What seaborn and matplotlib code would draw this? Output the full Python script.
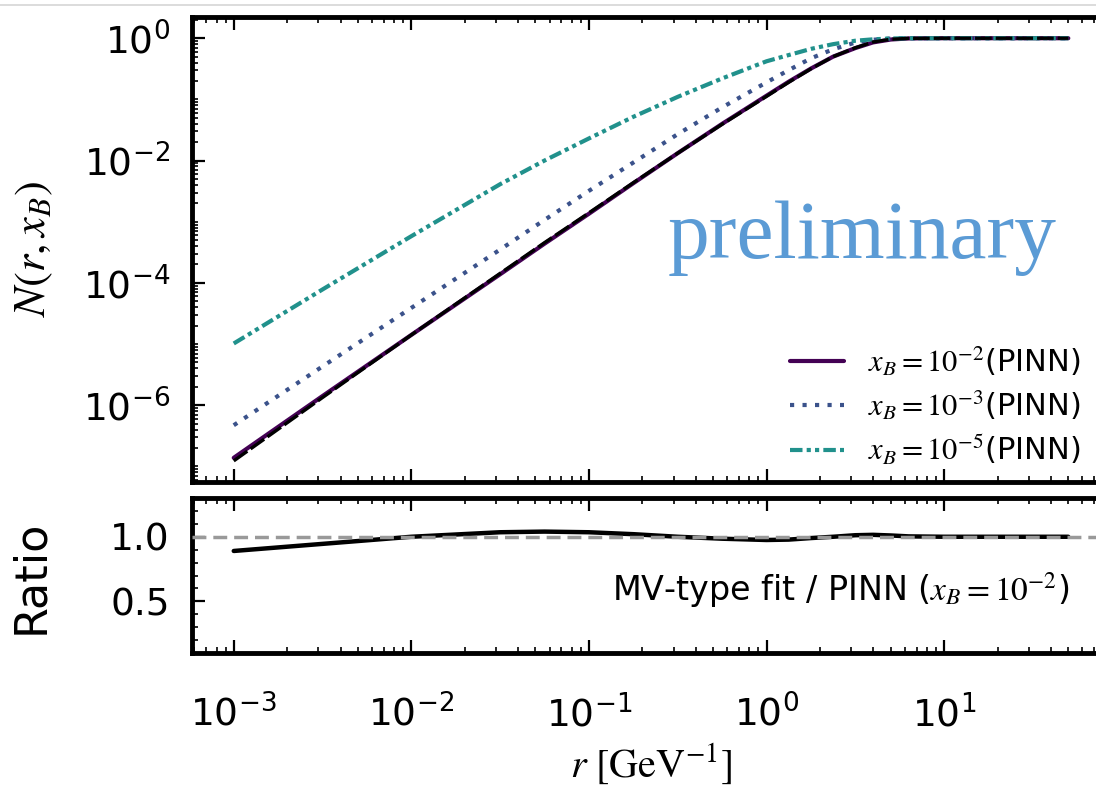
import matplotlib
matplotlib.use("Agg")
import matplotlib.pyplot as plt
import seaborn as sns
import pandas as pd
from matplotlib.ticker import LogLocator, NullFormatter, MultipleLocator
from matplotlib.lines import Line2D
from matplotlib.font_manager import FontProperties

# dipole size r [GeV^-1]
r = [0.001, 0.00316, 0.01, 0.0316, 0.0562, 0.1, 0.178, 0.316, 0.562,
     1.0, 1.33, 1.78, 2.37, 3.16, 3.98, 5.01, 6.31, 10.0, 50.0]

# PINN solutions N(r, x_B)
n_xb2 = [1.38e-7, 1.41e-6, 1.41e-5, 1.38e-4, 4.37e-4, 1.35e-3, 4.27e-3, 1.32e-2, 3.98e-2,
         0.115, 0.194, 0.32, 0.50, 0.69, 0.855, 0.953, 0.992, 1.0, 1.0]
n_xb3 = [4.7e-7, 4.3e-6, 3.9e-5, 3.5e-4, 1.07e-3, 3.2e-3, 9.3e-3, 2.7e-2, 7.4e-2,
         0.19, 0.30, 0.47, 0.66, 0.85, 0.945, 0.989, 0.999, 1.0, 1.0]
n_xb5 = [1.02e-5, 7.8e-5, 5.8e-4, 4.1e-3, 1.0e-2, 2.3e-2, 5.2e-2, 0.11, 0.22,
         0.42, 0.53, 0.67, 0.80, 0.91, 0.96, 0.99, 0.998, 1.0, 1.0]

# MV-type fit / PINN (x_B = 1e-2)
ratio_mv = [0.89, 0.945, 1.0, 1.035, 1.04, 1.035, 1.02, 1.0, 0.985,
            0.975, 0.978, 0.99, 1.0, 1.012, 1.015, 1.01, 1.003, 1.0, 1.0]

labels = [r'$x_B = 10^{-2}$(PINN)', r'$x_B = 10^{-3}$(PINN)', r'$x_B = 10^{-5}$(PINN)']
colors = ['#440154', '#3b528b', '#21918c']
styles = ['-', (0, (1, 2)), (0, (3, 1, 1, 1, 1, 1))]

df = pd.DataFrame({'r': r, 'xb2': n_xb2, 'xb3': n_xb3, 'xb5': n_xb5, 'ratio': ratio_mv})
df['mv'] = df['ratio'] * df['xb2']

sns.set_theme(style="ticks", rc={'axes.edgecolor': 'black', 'xtick.color': 'black',
                                 'ytick.color': 'black', 'text.color': 'black',
                                 'axes.labelcolor': 'black', 'axes.linewidth': 3.5})
plt.rcParams['font.family'] = ['DejaVu Sans']

fig = plt.figure(figsize=(10.96, 7.88), dpi=100)
ax1 = fig.add_axes([0.1752, 0.3883, 0.8376, 0.590])
ax2 = fig.add_axes([0.1752, 0.1713, 0.8376, 0.1967], sharex=ax1)
ax1.set_xscale('log')
ax1.set_yscale('log')

for col, c, ls in zip(['xb2', 'xb3', 'xb5'], colors, styles):
    sns.lineplot(data=df, x='r', y=col, ax=ax1, color=c, linestyle=ls, lw=3.0)
sns.lineplot(data=df, x='r', y='mv', ax=ax1, color='black', linestyle=(0, (5, 1.2)), lw=2.4)

handles = [Line2D([], [], color=c, linestyle=ls, lw=3.0) for c, ls in zip(colors, styles)]
ax1.legend(handles, labels, loc='lower right', bbox_to_anchor=(0.968, 0.032), frameon=False,
           prop=FontProperties(family='DejaVu Sans', size=22, math_fontfamily='stix'),
           handlelength=1.75, handletextpad=0.8, labelspacing=0.35, borderaxespad=0, borderpad=0)

sns.lineplot(data=df, x='r', y='ratio', ax=ax2, color='black', lw=3.2)
ax2.axhline(1.0, color='#999999', linestyle=(0, (4, 2)), lw=2.5, zorder=3)
ax2.set_ylim(0.1, 1.3)
ax2.set_yticks([0.5, 1.0])
ax2.yaxis.set_minor_locator(MultipleLocator(0.1))

ax1.set_yticks([1e-6, 1e-4, 1e-2, 1.0])
ax1.yaxis.set_minor_locator(LogLocator(base=10, subs=list(range(1, 10)), numticks=30))
ax1.yaxis.set_minor_formatter(NullFormatter())
ax1.xaxis.set_minor_locator(LogLocator(base=10, subs=list(range(2, 10)), numticks=30))
ax1.xaxis.set_minor_formatter(NullFormatter())

for ax in (ax1, ax2):
    ax.tick_params(which='both', direction='in', top=True, right=True, labelsize=27)
    ax.tick_params(which='major', length=9.5, width=1.6)
    ax.tick_params(which='minor', length=4.5, width=1.2)
    ax.tick_params(axis='y', pad=16)
    ax.tick_params(axis='x', pad=30)
ax1.tick_params(labelbottom=False)

ax1.set_xlabel('')
ax1.set_ylabel(r'$N(r,x_B)$', fontsize=32, math_fontfamily='stix')
ax1.yaxis.set_label_coords(-0.149, 0.5)
ax2.set_ylabel('Ratio', fontsize=32)
ax2.yaxis.set_label_coords(-0.1525, 0.49)
ax2.set_xlabel(r'$r\ [\mathrm{GeV}^{-1}]$', fontsize=29, math_fontfamily='stix')
ax2.xaxis.set_label_coords(0.5, -0.575)

ax2.text(0.956, 0.406, r'MV-type fit / PINN ($x_B = 10^{-2}$)', transform=ax2.transAxes,
         ha='right', va='center', fontsize=24, math_fontfamily='stix')

fig.text(0.7865, 0.6726, 'preliminary', fontsize=60, family='Liberation Serif',
         color='#5b9bd5', ha='center', va='baseline')
fig.add_artist(Line2D([0, 1], [0.9937, 0.9937], transform=fig.transFigure, color='#d5d5d5', lw=1.2))

fig.savefig('out.png', dpi=100)
